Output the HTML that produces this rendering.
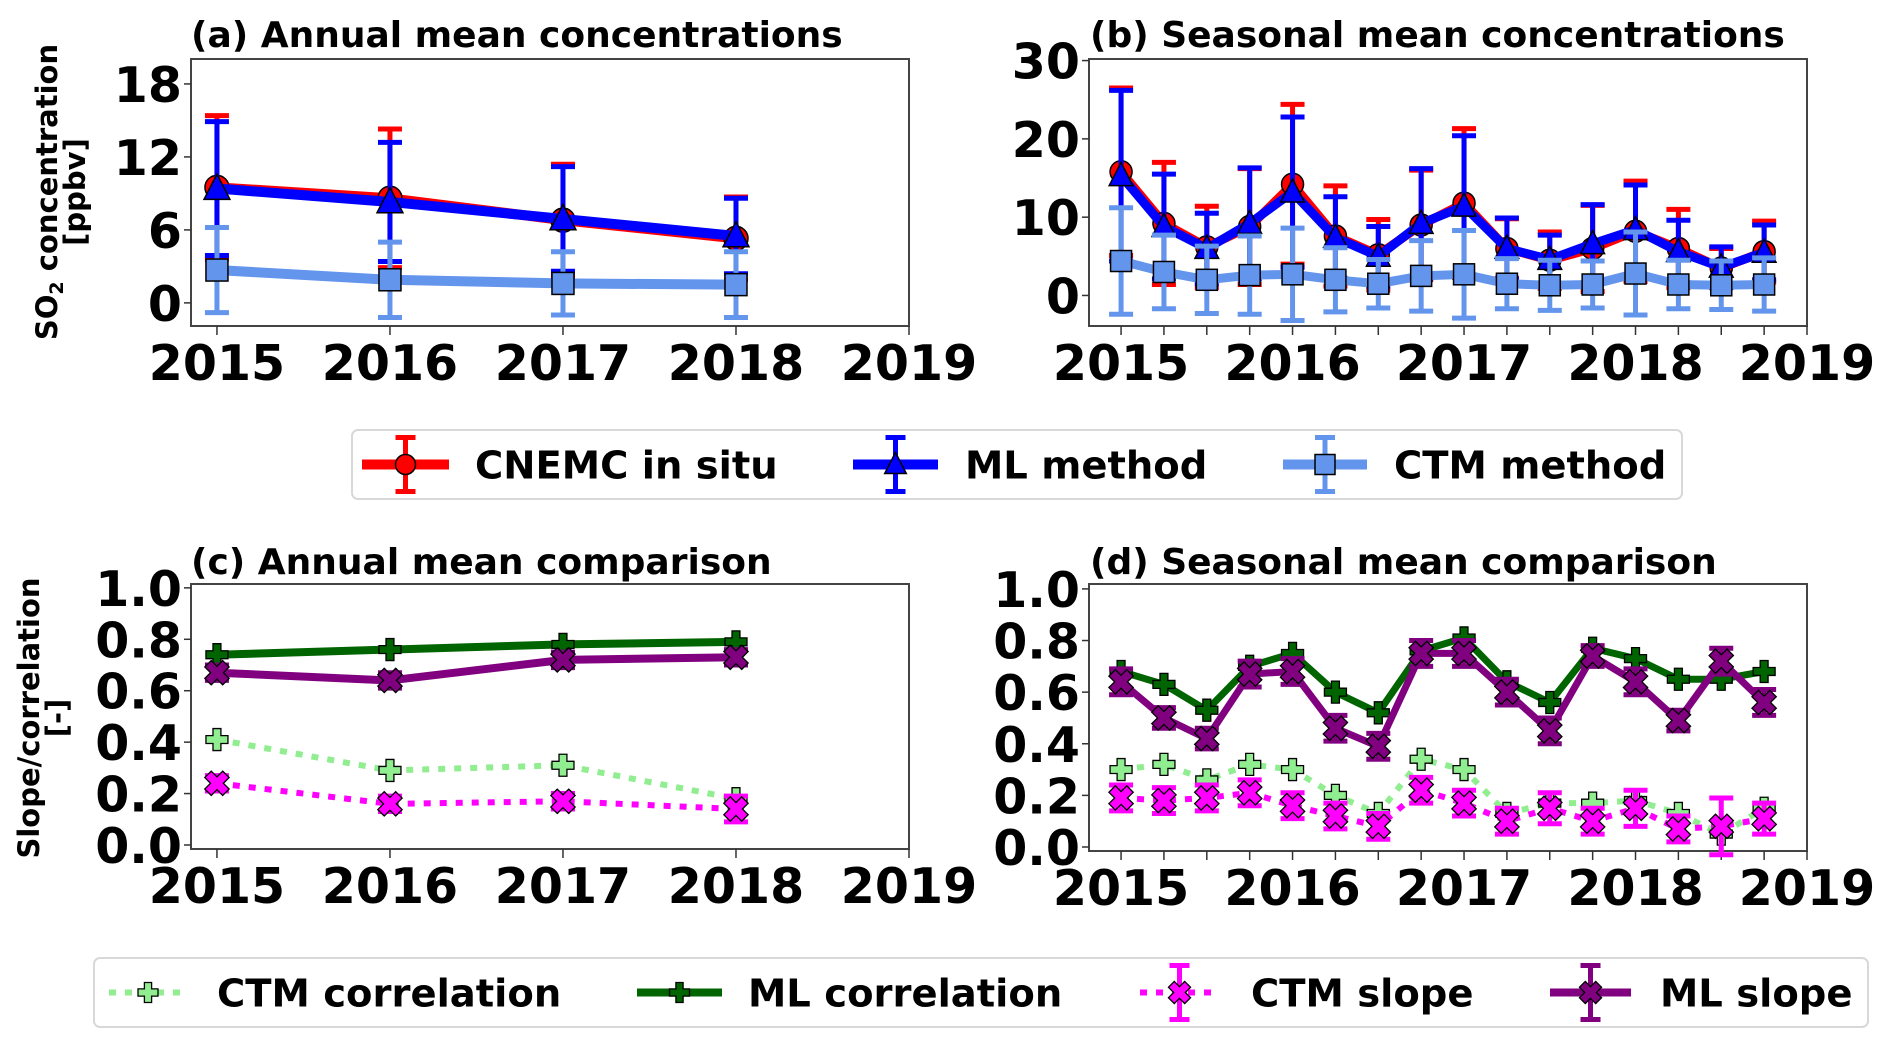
<!DOCTYPE html>
<html><head><meta charset="utf-8"><style>
html,body{margin:0;padding:0;background:#fff;}
svg{display:block;font-family:"DejaVu Sans","Liberation Sans",sans-serif;font-weight:bold;}
</style></head><body>
<svg id="fig" width="1892" height="1044" viewBox="0 0 1892 1044" xmlns="http://www.w3.org/2000/svg">
<rect width="1892" height="1044" fill="#fff"/>
<text x="191" y="47" font-size="36">(a) Annual mean concentrations</text>
<text x="1090" y="47" font-size="36">(b) Seasonal mean concentrations</text>
<text x="191" y="574" font-size="36">(c) Annual mean comparison</text>
<text x="1090" y="574" font-size="36">(d) Seasonal mean comparison</text>
<text transform="translate(57,192) rotate(-90)" text-anchor="middle" font-size="29">SO<tspan font-size="19" dy="6">2</tspan><tspan dy="-6"> concentration</tspan></text>
<text transform="translate(85,192) rotate(-90)" text-anchor="middle" font-size="29">[ppbv]</text>
<text transform="translate(39,718) rotate(-90)" text-anchor="middle" font-size="29">Slope/correlation</text>
<text transform="translate(67,718) rotate(-90)" text-anchor="middle" font-size="29">[-]</text>
<g id="layer"></g>
</svg>
<script>
// ---- data ----
const yearsA = [2015, 2016, 2017, 2018];
const seasonsB = [2015,2015.25,2015.5,2015.75,2016,2016.25,2016.5,2016.75,2017,2017.25,2017.5,2017.75,2018,2018.25,2018.5,2018.75];
const xTickLabels = ["2015","2016","2017","2018","2019"];
const yTicksA = [0, 6, 12, 18];
const yTicksB = [0, 10, 20, 30];
const yTicksC = [0, 0.2, 0.4, 0.6, 0.8, 1.0];

const cnemcA = [9.5, 8.6, 6.8, 5.3];
const cnemcAErr = [5.9, 5.7, 4.6, 3.4];
const mlA = [9.4, 8.3, 6.9, 5.5];
const mlAErr = [5.5, 4.9, 4.3, 3.1];
const ctmA = [2.7, 1.9, 1.6, 1.5];
const ctmAErr = [3.5, 3.1, 2.6, 2.7];

const cnemcB = [15.8,9.2,6.2,8.8,14.2,7.6,5.2,9.0,11.8,6.0,4.5,6.0,8.2,6.0,3.5,5.6];
const cnemcBErr = [10.7,7.8,5.2,7.4,10.2,6.4,4.5,7.0,9.5,3.8,3.6,5.5,6.4,5.0,2.5,3.9];
const mlB = [15.3,8.8,6.0,9.2,13.2,7.4,5.0,9.2,11.4,6.0,4.6,6.6,8.4,5.6,3.6,5.5];
const mlBErr = [10.9,6.7,4.5,7.1,9.6,5.2,3.8,7.0,9.0,3.9,3.1,5.0,5.7,4.0,2.6,3.5];
const ctmB = [4.4,3.0,2.0,2.6,2.7,2.0,1.5,2.5,2.7,1.5,1.3,1.4,2.8,1.4,1.3,1.4];
const ctmBErr = [6.8,4.7,4.3,5.0,5.9,4.1,3.1,4.5,5.6,3.2,3.2,3.0,5.3,3.1,3.1,3.4];

const ctmCorrC = [0.41, 0.29, 0.31, 0.18];
const mlCorrC = [0.74, 0.76, 0.78, 0.79];
const ctmSlopeC = [0.24, 0.16, 0.17, 0.14];
const ctmSlopeCErr = [0.03, 0.03, 0.03, 0.05];
const mlSlopeC = [0.67, 0.64, 0.72, 0.73];
const mlSlopeCErr = [0.03, 0.03, 0.03, 0.03];

const ctmCorrD = [0.30,0.32,0.26,0.32,0.30,0.20,0.13,0.34,0.30,0.13,0.17,0.17,0.18,0.13,0.05,0.15];
const mlCorrD = [0.68,0.63,0.53,0.70,0.75,0.60,0.52,0.76,0.81,0.64,0.56,0.77,0.73,0.65,0.65,0.68];
const ctmSlopeD = [0.19,0.18,0.19,0.21,0.16,0.12,0.08,0.22,0.17,0.10,0.15,0.10,0.15,0.07,0.08,0.11];
const ctmSlopeDErr = [0.05,0.05,0.05,0.05,0.05,0.05,0.05,0.05,0.05,0.05,0.06,0.05,0.07,0.05,0.11,0.06];
const mlSlopeD = [0.64,0.50,0.42,0.67,0.68,0.46,0.39,0.75,0.75,0.60,0.45,0.74,0.64,0.49,0.72,0.56];
const mlSlopeDErr = [0.05,0.04,0.04,0.05,0.05,0.05,0.05,0.05,0.05,0.05,0.05,0.04,0.05,0.04,0.05,0.05];

// ---- rendering ----
const NS = "http://www.w3.org/2000/svg";
const layer = document.getElementById('layer');
function mk(tag, attrs, parent){ const e=document.createElementNS(NS,tag); for(const k in attrs) e.setAttribute(k,attrs[k]); (parent||layer).appendChild(e); return e; }

function makeAxes(name, box, xmin, xmax, ymin, ymax, yTicks, yFmt, minorStep){
  const xs = v => box.x0 + (v - xmin)/(xmax - xmin)*(box.x1 - box.x0);
  const ys = v => box.y1 - (v - ymin)/(ymax - ymin)*(box.y1 - box.y0);
  const g = mk('g', {});
  
  
  const fr = mk('rect', {x:box.x0, y:box.y0, width:box.x1-box.x0, height:box.y1-box.y0, fill:'#fff', stroke:'#444', 'stroke-width':2}, g);
  
  
  yTicks.forEach(t => {
    const y = ys(t);
    mk('line', {x1:box.x0-7, x2:box.x0, y1:y, y2:y, stroke:'#333', 'stroke-width':1.5}, g);
    const tx = mk('text', {x:box.x0-9, y:y+18, 'text-anchor':'end', 'font-size':49}, g);
    tx.textContent = yFmt(t);
    
    
  });
  for (let v = 2015; v <= 2019.001; v += minorStep) {
    const x = xs(v);
    mk('line', {x1:x, x2:x, y1:box.y1, y2:box.y1+9, stroke:'#333', 'stroke-width':1.5}, g);
  }
  xTickLabels.forEach((lab, i) => {
    const x = xs(2015 + i);
    const tx = mk('text', {x:x, y:box.y1+54, 'text-anchor':'middle', 'font-size':49}, g);
    tx.textContent = lab;
    
    
  });
  return {xs, ys, g};
}

function marker(type, x, y, fill, s, parent){
  let e;
  if (type === 'o') e = mk('circle', {cx:x, cy:y, r:s*0.5, fill:fill, stroke:'#000', 'stroke-width':1.5}, parent);
  else if (type === '^') { const h=s*0.6; e = mk('polygon', {points:`${x},${y-h} ${x-h*0.9},${y+h*0.75} ${x+h*0.9},${y+h*0.75}`, fill:fill, stroke:'#000', 'stroke-width':1.5}, parent); }
  else if (type === 's') { const h=s*0.5; e = mk('rect', {x:x-h, y:y-h, width:2*h, height:2*h, fill:fill, stroke:'#000', 'stroke-width':1.5}, parent); }
  else if (type === 'P' || type === 'X') {
    const a=s*0.5, b=s*0.18;
    const pts=[[-b,-a],[b,-a],[b,-b],[a,-b],[a,b],[b,b],[b,a],[-b,a],[-b,b],[-a,b],[-a,-b],[-b,-b]];
    const rot = type==='X' ? Math.PI/4 : 0;
    const sc = type==='X' ? 1.15 : 1;
    e = mk('polygon', {points: pts.map(p=>{const px=p[0]*sc, py=p[1]*sc; return (x+px*Math.cos(rot)-py*Math.sin(rot))+','+(y+px*Math.sin(rot)+py*Math.cos(rot));}).join(' '), fill:fill, stroke:'#000', 'stroke-width':1.3}, parent);
  }
  return e;
}

function series(ax, name, xv, yv, err, color, lw, dash, mtype, msize){
  const g = mk('g', {});
  
  
  if (err) {
    xv.forEach((xx,i)=>{
      const x=ax.xs(xx), y1=ax.ys(yv[i]-err[i]), y2=ax.ys(yv[i]+err[i]);
      const eb = mk('line', {x1:x,x2:x,y1:y1,y2:y2,stroke:color,'stroke-width':5}, g);
      
      
      mk('line', {x1:x-12,x2:x+12,y1:y1,y2:y1,stroke:color,'stroke-width':5}, g);
      mk('line', {x1:x-12,x2:x+12,y1:y2,y2:y2,stroke:color,'stroke-width':5}, g);
    });
  }
  const pts = xv.map((xx,i)=>ax.xs(xx)+','+ax.ys(yv[i])).join(' ');
  const line = mk('polyline', {points:pts, fill:'none', stroke:color, 'stroke-width':lw, 'stroke-linejoin':'round'}, g);
  if (dash) line.setAttribute('stroke-dasharray', dash);
  
  
  xv.forEach((xx,i)=>{
    const m = marker(mtype, ax.xs(xx), ax.ys(yv[i]), color, msize, g);
    
    
  });
}

const fmtInt = t => String(t);
const fmt1 = t => t.toFixed(1);
const axA = makeAxes('panel-a', {x0:191,x1:909,y0:59,y1:326}, 2014.85, 2019, -1.9, 20.05, yTicksA, fmtInt, 1);
const axB = makeAxes('panel-b', {x0:1089,x1:1807,y0:59,y1:326}, 2014.813, 2019, -3.9, 30.2, yTicksB, fmtInt, 0.25);
const axC = makeAxes('panel-c', {x0:191,x1:909,y0:584,y1:849}, 2014.85, 2019, -0.0156, 1.015, yTicksC, fmt1, 1);
const axD = makeAxes('panel-d', {x0:1089,x1:1807,y0:584,y1:851}, 2014.813, 2019, -0.0155, 1.019, yTicksC, fmt1, 0.25);

series(axA, 'cnemc-annual', yearsA, cnemcA, cnemcAErr, '#ff0000', 10, null, 'o', 24);
series(axA, 'ml-annual', yearsA, mlA, mlAErr, '#0000ff', 10, null, '^', 24);
series(axA, 'ctm-annual', yearsA, ctmA, ctmAErr, '#6495ed', 10, null, 's', 22);

series(axB, 'cnemc-seasonal', seasonsB, cnemcB, cnemcBErr, '#ff0000', 9, null, 'o', 22);
series(axB, 'ml-seasonal', seasonsB, mlB, mlBErr, '#0000ff', 9, null, '^', 22);
series(axB, 'ctm-seasonal', seasonsB, ctmB, ctmBErr, '#6495ed', 9, null, 's', 21);

series(axC, 'ctm-correlation-annual', yearsA, ctmCorrC, null, '#90ee90', 6, '7,9', 'P', 22);
series(axC, 'ml-correlation-annual', yearsA, mlCorrC, null, '#006400', 8, null, 'P', 22);
series(axC, 'ctm-slope-annual', yearsA, ctmSlopeC, ctmSlopeCErr, '#ff00ff', 6, '7,9', 'X', 22);
series(axC, 'ml-slope-annual', yearsA, mlSlopeC, mlSlopeCErr, '#800080', 8, null, 'X', 22);

series(axD, 'ctm-correlation-seasonal', seasonsB, ctmCorrD, null, '#90ee90', 6, '7,9', 'P', 22);
series(axD, 'ml-correlation-seasonal', seasonsB, mlCorrD, null, '#006400', 7, null, 'P', 22);
series(axD, 'ctm-slope-seasonal', seasonsB, ctmSlopeD, ctmSlopeDErr, '#ff00ff', 6, '7,9', 'X', 22);
series(axD, 'ml-slope-seasonal', seasonsB, mlSlopeD, mlSlopeDErr, '#800080', 7, null, 'X', 22);

// ---- legends ----
function legend(name, box, entries){
  const g = mk('g', {});
  
  
  mk('rect', {x:box.x, y:box.y, width:box.w, height:box.h, rx:6, fill:'#fff', stroke:'#d8d8d8', 'stroke-width':2}, g);
  const cy = box.y + box.h/2;
  entries.forEach(en=>{
    const eg = mk('g', {}, g);
    
    
    const mid = (en.h0+en.h1)/2;
    if (en.err) {
      mk('line', {x1:mid,x2:mid,y1:cy-27,y2:cy+27,stroke:en.c,'stroke-width':5}, eg);
      mk('line', {x1:mid-10,x2:mid+10,y1:cy-27,y2:cy-27,stroke:en.c,'stroke-width':5}, eg);
      mk('line', {x1:mid-10,x2:mid+10,y1:cy+27,y2:cy+27,stroke:en.c,'stroke-width':5}, eg);
    }
    const l = mk('line', {x1:en.h0,x2:en.h1,y1:cy,y2:cy,stroke:en.c,'stroke-width':en.lw}, eg);
    if (en.dash) l.setAttribute('stroke-dasharray', en.dash);
    marker(en.m, mid, cy, en.c, 20, eg);
    const t = mk('text', {x:en.tx, y:cy+14, 'font-size':38.5}, eg);
    t.textContent = en.label;
  });
}
legend('legend-concentrations', {x:352,y:430,w:1330,h:69}, [
  {label:'CNEMC in situ', c:'#ff0000', m:'o', err:true, h0:362, h1:449, tx:475, lw:10},
  {label:'ML method', c:'#0000ff', m:'^', err:true, h0:853, h1:938, tx:965, lw:10},
  {label:'CTM method', c:'#6495ed', m:'s', err:true, h0:1283, h1:1367, tx:1394, lw:10}
]);
legend('legend-comparison', {x:94,y:958,w:1774,h:69}, [
  {label:'CTM correlation', c:'#90ee90', m:'P', err:false, h0:109, h1:187, tx:217, lw:6, dash:'7,9'},
  {label:'ML correlation', c:'#006400', m:'P', err:false, h0:637, h1:722, tx:748, lw:8},
  {label:'CTM slope', c:'#ff00ff', m:'X', err:true, h0:1140, h1:1219, tx:1251, lw:6, dash:'7,9'},
  {label:'ML slope', c:'#800080', m:'X', err:true, h0:1550, h1:1631, tx:1660, lw:8}
]);
</script>
</body></html>
